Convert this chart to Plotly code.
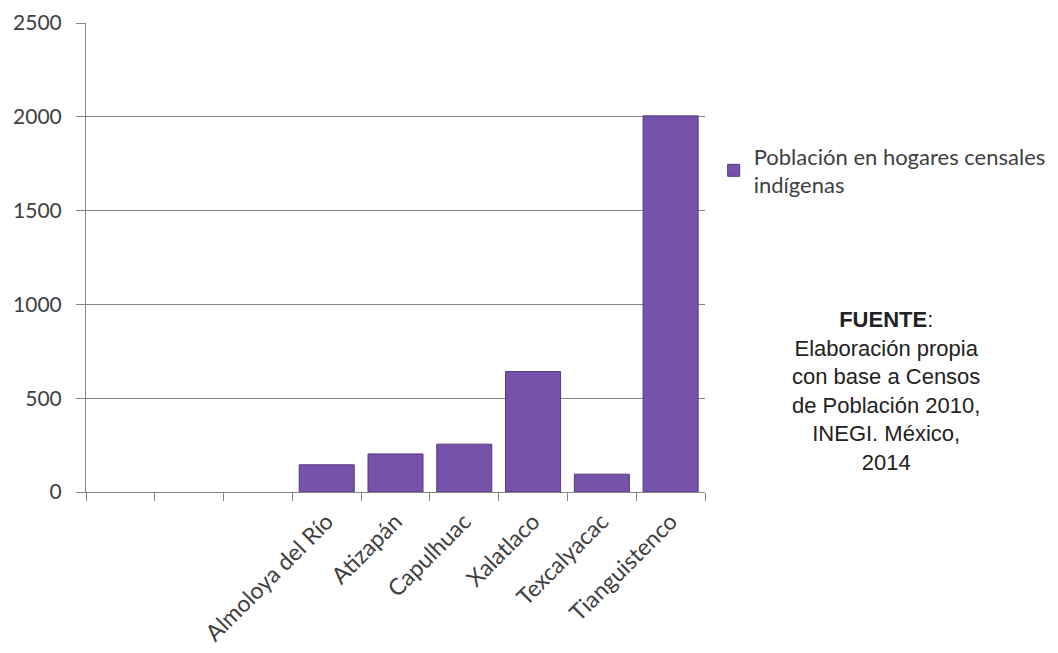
import plotly.graph_objects as go

# municipios (los tres primeros espacios quedan vacios en el original)
municipios = [" ", "  ", "   ", "Almoloya del Río", "Atizapán", "Capulhuac",
              "Xalatlaco", "Texcalyacac", "Tianguistenco"]
poblacion = [None, None, None, 145, 203, 255, 642, 95, 2005]

serie = "Población en hogares censales<br>indígenas"
fuente = ("<b>FUENTE</b>:<br>Elaboración propia<br>con base a Censos<br>"
          "de Población 2010,<br>INEGI. México,<br>2014")

fig = go.Figure()
fig.add_trace(go.Bar(
    x=municipios, y=poblacion, name=serie,
    marker=dict(color="#7652AA", line=dict(color="#553A82", width=1)),
    showlegend=True,
))

fig.add_annotation(
    text=fuente, xref="paper", yref="paper", x=1.292, y=0.215,
    xanchor="center", yanchor="middle", showarrow=False, align="center",
    font=dict(family="Liberation Sans", size=22, color="#222222"),
)

# la pagina deja 8px de margen en el body, se compensa aqui
fig.update_layout(
    width=1058, height=653,
    margin=dict(l=78, r=361, t=15, b=169, autoexpand=False),
    paper_bgcolor="white", plot_bgcolor="white",
    bargap=0.2,
    font=dict(family="Lato", size=21, color="#404040"),
    legend=dict(x=1.014, y=0.685, xanchor="left", yanchor="middle",
                font=dict(family="Lato", size=22, color="#404040"),
                itemwidth=30),
)
fig.update_xaxes(
    type="category", tickangle=-45, showgrid=False, automargin=False,
    showline=True, linecolor="#868686", linewidth=1,
    ticks="outside", tickson="boundaries", ticklen=8, tickcolor="#868686",
    tickfont=dict(size=23), ticklabelstandoff=6,
)
fig.update_yaxes(
    range=[0, 2500], dtick=500, showgrid=True, gridcolor="#868686", gridwidth=1,
    showline=True, linecolor="#868686", linewidth=1, automargin=False,
    ticks="outside", ticklen=9, tickcolor="#868686", zeroline=False,
    ticklabelstandoff=10,
)

fig.write_html("out.html")
